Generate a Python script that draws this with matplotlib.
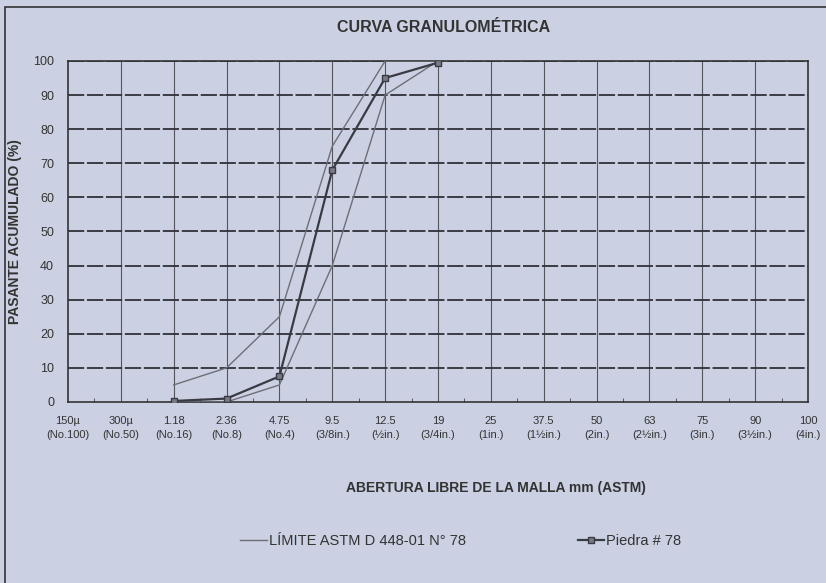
import matplotlib
matplotlib.use("Agg")
import matplotlib.pyplot as plt
from matplotlib.patches import Rectangle
from matplotlib.lines import Line2D

sizes = ["150µ", "300µ", "1.18", "2.36", "4.75", "9.5", "12.5", "19", "25",
         "37.5", "50", "63", "75", "90", "100"]
sieves = ["(No.100)", "(No.50)", "(No.16)", "(No.8)", "(No.4)", "(3/8in.)", "(½in.)",
          "(3/4in.)", "(1in.)", "(1½in.)", "(2in.)", "(2½in.)", "(3in.)", "(3½in.)", "(4in.)"]

# data only on sieves 1.18 .. 19
data_sizes = ["1.18", "2.36", "4.75", "9.5", "12.5", "19"]
upper_limit = [5, 10, 25, 75, 100, 100]
lower_limit = [0, 0, 5, 40, 90, 100]
piedra_78 = [0.3, 1.0, 7.5, 68, 95, 99.5]

bg = "#cbd1e2"
plt.rcParams['font.family'] = ['Liberation Sans', 'DejaVu Sans']

fig = plt.figure(figsize=(8.26, 5.83), dpi=100, facecolor=bg)
ax = fig.add_axes([0.0823, 0.3105, 0.8959, 0.5849])
ax.set_facecolor(bg)

xpos = [sizes.index(s) for s in data_sizes]

ax.plot(xpos, upper_limit, color="#6e6e78", lw=1.0, zorder=3)
ax.plot(xpos, lower_limit, color="#6e6e78", lw=1.0, zorder=3)
ax.plot(xpos, piedra_78, color="#3a3a44", lw=1.6, marker="s", ms=5,
        mfc="#7a7a84", mec="#3a3a44", mew=1, zorder=4)

ax.set_xlim(0, len(sizes) - 1)
ax.set_ylim(0, 100)
ax.set_xticks(range(len(sizes)))
ax.set_xticklabels([f"{a}\n{b}" for a, b in zip(sizes, sieves)], fontsize=8,
                   color="#333333", linespacing=1.5)
ax.set_xticks([i + 0.5 for i in range(len(sizes) - 1)], minor=True)
ax.set_yticks(range(0, 101, 10))
ax.tick_params(axis='y', length=0, labelsize=9, colors="#333333", pad=10)
ax.tick_params(axis='x', which='major', length=0, pad=10)
ax.tick_params(axis='x', which='minor', length=3, direction='in', color="#444444")

for x in range(1, len(sizes) - 1):
    ax.axvline(x, color="#555560", lw=0.8, zorder=1)
for y in range(10, 101, 10):
    ax.axhline(y, color="#30303a", lw=1.3, ls=(0, (9, 1.5)), zorder=1)

for s in ax.spines.values():
    s.set_color("#333333")
    s.set_linewidth(1.2)

ax.set_ylabel("PASANTE ACUMULADO (%)", fontsize=10, fontweight="bold",
              color="#333333", labelpad=8)
fig.text(0.537, 0.952, "CURVA GRANULOMÉTRICA", ha="center", va="center",
         fontsize=11.5, fontweight="bold", color="#333333")
fig.text(0.601, 0.163, "ABERTURA LIBRE DE LA MALLA mm (ASTM)", ha="center",
         va="center", fontsize=10, fontweight="bold", color="#333333")

# legend
h1 = Line2D([], [], color="#6e6e78", lw=1.0)
h2 = Line2D([], [], color="#3a3a44", lw=1.6, marker="s", ms=4,
            mfc="#7a7a84", mec="#3a3a44")
fig.legend([h1, h2], ["LÍMITE ASTM D 448-01 N° 78", "Piedra # 78"],
           loc="center", bbox_to_anchor=(0.558, 0.072), ncol=2, frameon=False,
           fontsize=10.5, handlelength=1.8, handletextpad=0.15, columnspacing=7.7,
           labelcolor="#333333")

fig.patches.append(Rectangle((0.006, -0.01), 1.2, 0.998, transform=fig.transFigure,
                             fill=False, edgecolor="#333333", lw=1.2))

fig.savefig("out.png", dpi=100, facecolor=bg)
